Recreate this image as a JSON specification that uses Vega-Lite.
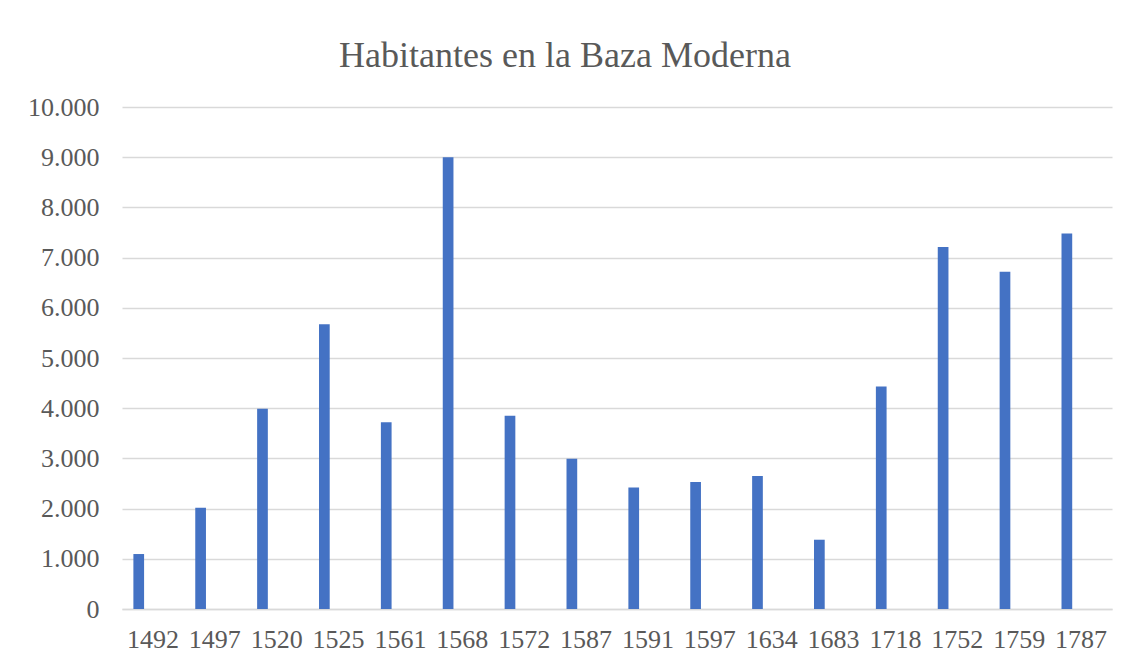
{
  "$schema": "https://vega.github.io/schema/vega-lite/v6.json",
  "autosize": "none",
  "width": 990,
  "height": 502,
  "padding": {"left": 122, "top": 107, "right": 19, "bottom": 57},
  "background": "white",
  "title": {
    "text": "Habitantes en la Baza Moderna",
    "font": "Liberation Serif",
    "fontSize": 36,
    "fontWeight": "normal",
    "color": "#595959",
    "anchor": "middle",
    "offset": 19,
    "dx": -52
  },
  "data": {
    "values": [
      {"anio": "1492", "habitantes": 1095, "serie": "Habitantes"},
      {"anio": "1497", "habitantes": 2017, "serie": "Habitantes"},
      {"anio": "1520", "habitantes": 3990, "serie": "Habitantes"},
      {"anio": "1525", "habitantes": 5670, "serie": "Habitantes"},
      {"anio": "1561", "habitantes": 3720, "serie": "Habitantes"},
      {"anio": "1568", "habitantes": 9000, "serie": "Habitantes"},
      {"anio": "1572", "habitantes": 3850, "serie": "Habitantes"},
      {"anio": "1587", "habitantes": 2995, "serie": "Habitantes"},
      {"anio": "1591", "habitantes": 2420, "serie": "Habitantes"},
      {"anio": "1597", "habitantes": 2530, "serie": "Habitantes"},
      {"anio": "1634", "habitantes": 2650, "serie": "Habitantes"},
      {"anio": "1683", "habitantes": 1380, "serie": "Habitantes"},
      {"anio": "1718", "habitantes": 4430, "serie": "Habitantes"},
      {"anio": "1752", "habitantes": 7210, "serie": "Habitantes"},
      {"anio": "1759", "habitantes": 6720, "serie": "Habitantes"},
      {"anio": "1787", "habitantes": 7480, "serie": "Habitantes"}
    ]
  },
  "mark": {"type": "bar", "color": "#4472C4"},
  "encoding": {
    "x": {
      "field": "anio",
      "type": "nominal",
      "sort": null,
      "scale": {"paddingInner": 0.368, "paddingOuter": 0.184},
      "axis": {
        "title": null,
        "labelAngle": 0,
        "labelFont": "Liberation Serif",
        "labelFontSize": 26,
        "labelColor": "#595959",
        "labelPadding": 17,
        "ticks": false,
        "domainColor": "#d9d9d9",
        "domainWidth": 1.5,
        "grid": false
      }
    },
    "xOffset": {
      "field": "serie",
      "type": "nominal",
      "scale": {"domain": ["Habitantes", "Vacía"], "paddingInner": 0, "paddingOuter": 0.827, "align": 0}
    },
    "y": {
      "field": "habitantes",
      "type": "quantitative",
      "scale": {"domain": [0, 10000], "nice": false},
      "axis": {
        "title": null,
        "values": [0, 1000, 2000, 3000, 4000, 5000, 6000, 7000, 8000, 9000, 10000],
        "format": ",d",
        "labelFont": "Liberation Serif",
        "labelFontSize": 26,
        "labelColor": "#595959",
        "labelPadding": 23,
        "ticks": false,
        "domain": false,
        "gridColor": "#d9d9d9",
        "gridWidth": 1.5
      }
    }
  },
  "config": {
    "locale": {
      "number": {"decimal": ",", "thousands": ".", "grouping": [3], "currency": ["", " €"]}
    },
    "view": {"stroke": null}
  }
}
